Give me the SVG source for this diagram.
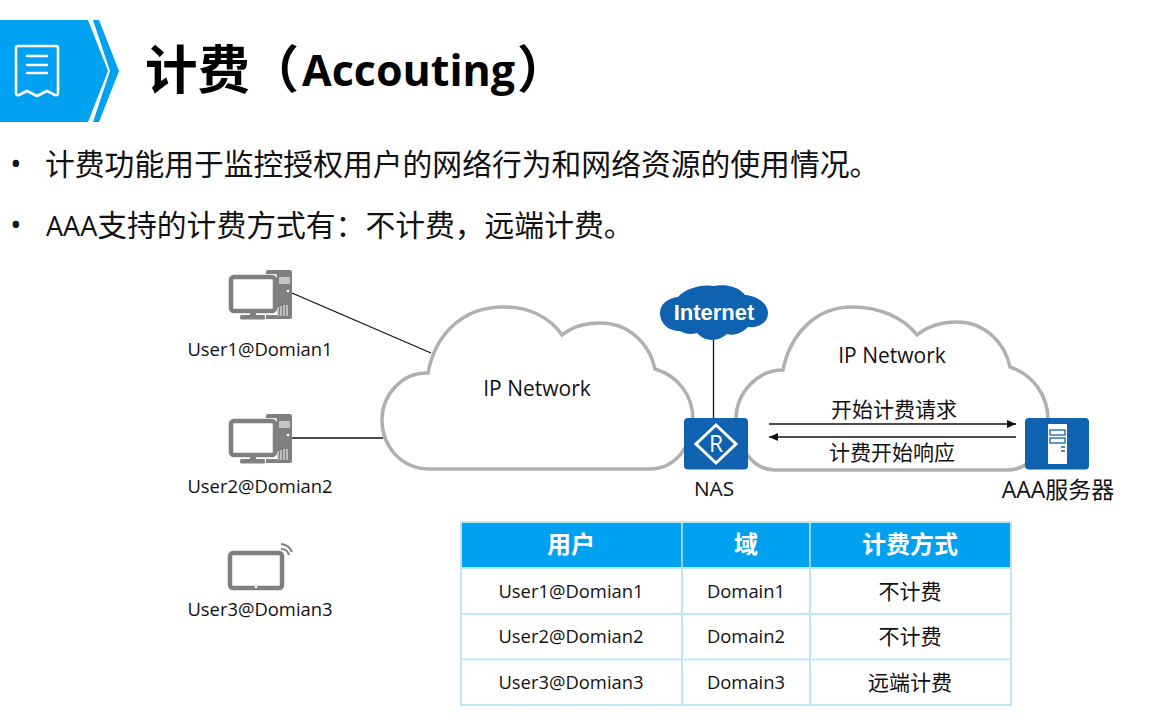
<svg xmlns="http://www.w3.org/2000/svg" width="1151" height="728" viewBox="0 0 1151 728">
<style>
text{font-family:"Open Sans","Noto Sans CJK SC",sans-serif;fill:#111}
.cloud{fill:#fff;stroke:#b0b0b0;stroke-width:3.5;stroke-linejoin:miter}
.lbl{font-size:18.400px;text-anchor:middle}
.net{font-size:21px;text-anchor:middle}
.cn{font-size:21px;text-anchor:middle}
.bul{font-size:29.800px}
.th{font-size:24px;font-weight:700;fill:#fff;text-anchor:middle}
.cell{fill:#fff;stroke:#bfe7f5;stroke-width:2}
.line{stroke:#111;stroke-width:1.3;fill:none}
.gray{fill:#7f7f7f}
.blue{fill:#0e62b0}
.wl{fill:none;stroke:#fff;stroke-width:2.600;stroke-linecap:round;stroke-linejoin:round}
</style>
<defs>
<marker id="arr" markerUnits="userSpaceOnUse" markerWidth="10" markerHeight="8" refX="9" refY="4" orient="auto-start-reverse"><path d="M0 0L9 4L0 8Z" fill="#111"/></marker>
<g id="pc">
<path class="gray" d="M268 270H290Q292 270 292 272V317Q292 319 290 319H266V315H277V276Q277 274 275 274H266V272Q266 270 268 270Z"/>
<rect x="279" y="277" width="11" height="7" fill="#fff" opacity=".55"/>
<circle cx="288" cy="291" r="1.300" fill="#fff"/>
<path d="M278 316V307M281 316V306M284 316V305M287 316V305" stroke="#fff" stroke-width="1"/>
<rect x="231" y="277" width="44" height="34" rx="3" fill="#fff" stroke="#7f7f7f" stroke-width="4.500"/>
<rect x="250" y="311" width="6" height="5" class="gray"/>
<rect x="240" y="315" width="25" height="4.500" rx="1.500" class="gray"/>
</g>
</defs>
<g id="header">
<path fill="#00a1f1" d="M0 20H88L108 71L88 122H0Z"/>
<path fill="#00a1f1" d="M93 20H99L119 71L99 122H93L110 71Z"/>
<path class="wl" d="M16 48Q16 46 18 46H56Q58 46 58 48V93Q58 96 55 95L47 91L37 96L27 91L19 95Q16 96 16 93Z"/>
<path class="wl" d="M27 56H47M27 65H47M27 73H47"/>
<text x="145" y="89" style="font-size:52.500px;font-weight:700;fill:#000">计费</text>
<text x="248" y="88" style="font-size:51px;font-weight:700;fill:#000">（</text>
<text x="302" y="86" style="font-size:43px;font-weight:700;fill:#000">Accouting</text>
<text x="517" y="88" style="font-size:51px;font-weight:700;fill:#000">）</text>
</g>
<g id="bullets">
<text x="10" y="175" style="font-size:31px">•</text>
<text x="45" y="175" class="bul">计费功能用于监控授权用户的网络行为和网络资源的使用情况。</text>
<text x="10" y="236" style="font-size:31px">•</text>
<text x="46" y="236" class="bul"><tspan style="font-size:27px">AAA</tspan>支持的计费方式有：不计费，远端计费。</text>
</g>
<g id="cloud-left">
<path class="cloud" d="M430 469C400 469 382 445 382 420C382 395 402 372 428 373C435 335 462 307 503 307C530 307 550 318 562 335C572 327 585 323 600 323C630 323 650 345 655 369C678 376 693 395 693 420C693 445 675 469 650 469Z"/>
<text x="537" y="396" class="net">IP Network</text>
</g>
<g id="cloud-right">
<path class="cloud" d="M775 470C752 470 736 445 736 420C736 392 758 370 783 370C790 335 815 307 852 307C880 307 904 318 917 335C928 326 942 322 957 322C985 322 1005 343 1010 367C1033 375 1048 395 1048 420C1048 445 1032 470 1007 470Z"/>
<text x="892" y="363" class="net">IP Network</text>
<text x="894" y="417" class="cn">开始计费请求</text>
<text x="892" y="460" class="cn">计费开始响应</text>
</g>
<g id="connectors">
<path class="line" d="M292 293L431 353"/>
<path class="line" d="M292 438H383"/>
<path class="line" d="M713.500 338V418"/>
<path class="line" marker-end="url(#arr)" d="M769 424H1016"/>
<path class="line" marker-end="url(#arr)" d="M1016 437H769"/>
</g>
<g id="internet">
<path class="blue" d="M680 331C666 331 660 321 660 313C660 304 668 298 678 297C686 288 702 284 714 286C722 284 738 285 745 295C758 296 768 304 768 313C768 323 758 328 748 327C741 334 733 336 727 334C718 342 705 342 697 333C691 335 685 334 680 331Z"/>
<text x="714" y="320" style="font-size:22px;font-weight:700;fill:#fff;text-anchor:middle;font-family:'Liberation Sans',sans-serif">Internet</text>
</g>
<g id="nas">
<rect x="684" y="418" width="64" height="51.500" rx="4" class="blue"/>
<path d="M716 425L736 444L716 463L696 444Z" fill="none" stroke="#fff" stroke-width="3"/>
<text x="716" y="452" style="font-size:23px;fill:#fff;text-anchor:middle">R</text>
<text x="714" y="496" style="font-size:20.800px;text-anchor:middle">NAS</text>
</g>
<g id="aaa">
<rect x="1025" y="418" width="64" height="51.500" rx="4" class="blue"/>
<rect x="1048" y="424" width="19" height="40" fill="#fff"/>
<rect x="1050" y="430" width="15" height="5" fill="none" stroke="#0e62b0" stroke-width="1.300"/>
<rect x="1050" y="438" width="15" height="5" fill="none" stroke="#0e62b0" stroke-width="1.300"/>
<path d="M1061 447H1065M1061 451H1065" stroke="#0e62b0" stroke-width="1.300"/>
<text x="1058" y="498" style="font-size:23px;text-anchor:middle">AAA服务器</text>
</g>
<g id="user1">
<use href="#pc"/>
<text x="260" y="356" class="lbl">User1@Domian1</text>
</g>
<g id="user2">
<use href="#pc" y="144"/>
<text x="260" y="493" class="lbl">User2@Domian2</text>
</g>
<g id="user3">
<rect x="230" y="553" width="52" height="35" rx="3" fill="#fff" stroke="#7f7f7f" stroke-width="4.500"/>
<circle cx="256" cy="587" r="1.300" fill="#fff"/>
<path d="M281 549A8 8 0 0 1 289 555M281 544A13 13 0 0 1 292 552" fill="none" stroke="#7f7f7f" stroke-width="2.200"/>
<text x="260" y="616" class="lbl">User3@Domian3</text>
</g>
<g id="table">
<rect class="cell" x="461" y="522" width="550" height="46" style="fill:#00a1f1"/>
<path d="M682 522V568M810 522V568" stroke="#bfe7f5" stroke-width="1.500"/>
<rect class="cell" x="461" y="568" width="550" height="137"/>
<path d="M461 614H1011M461 659.500H1011M682 568V705M810 568V705" stroke="#bfe7f5" stroke-width="2" fill="none"/>
<text x="571" y="553" class="th">用户</text>
<text x="746" y="553" class="th">域</text>
<text x="910" y="553" class="th">计费方式</text>
<text x="571" y="598" class="lbl">User1@Domian1</text>
<text x="746" y="598" class="lbl">Domain1</text>
<text x="910" y="599" class="cn">不计费</text>
<text x="571" y="643" class="lbl">User2@Domian2</text>
<text x="746" y="643" class="lbl">Domain2</text>
<text x="910" y="644" class="cn">不计费</text>
<text x="571" y="689" class="lbl">User3@Domian3</text>
<text x="746" y="689" class="lbl">Domain3</text>
<text x="910" y="690" class="cn">远端计费</text>
</g>
</svg>
